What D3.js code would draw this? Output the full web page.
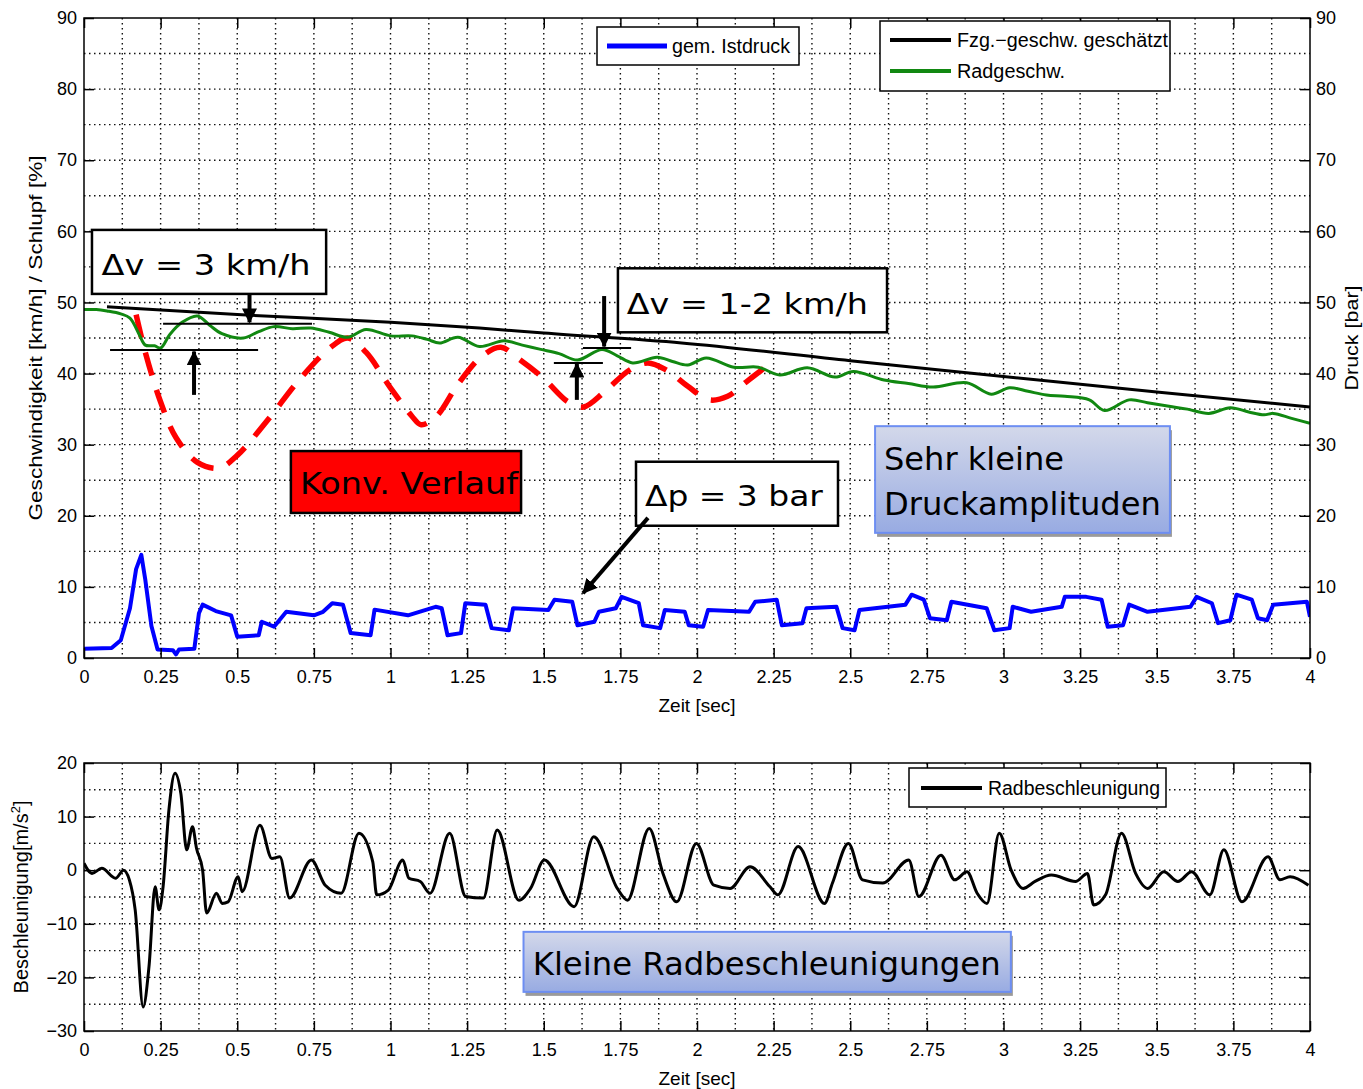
<!DOCTYPE html>
<html>
<head>
<meta charset="utf-8">
<script src="https://cdn.jsdelivr.net/npm/d3@7"></script>
<style>
body { margin: 0; background: #fff; }
text { font-family: "Liberation Sans", Arial, sans-serif; fill: #000; }
.note { font-family: "DejaVu Sans", Verdana, sans-serif; }
</style>
</head>
<body>
<svg id="chart" width="1363" height="1089"></svg>
<script>
// ---- data ----
const timeTicks = [0, 0.25, 0.5, 0.75, 1, 1.25, 1.5, 1.75, 2, 2.25, 2.5, 2.75, 3, 3.25, 3.5, 3.75, 4];
const timeLabels = ["0", "0.25", "0.5", "0.75", "1", "1.25", "1.5", "1.75", "2", "2.25", "2.5", "2.75", "3", "3.25", "3.5", "3.75", "4"];
const speedTicks = [0, 10, 20, 30, 40, 50, 60, 70, 80, 90];
const accelTicks = [-30, -20, -10, 0, 10, 20];

// Fzg.-geschw. geschaetzt [t, km/h]
const vehicleSpeed = [[0.075, 49.4], [0.5, 48.3], [1.0, 47.2], [1.29, 46.4], [1.5, 45.7], [1.95, 44.3],
  [2.5, 41.8], [3.0, 39.6], [3.5, 37.4], [4.0, 35.3]];

// Radgeschw. [t, km/h]
const wheelSpeed = [[0, 49.0], [0.04, 49.0], [0.075, 48.8], [0.12, 48.4], [0.15, 47.8], [0.18, 45.5], [0.2, 44.0],
  [0.23, 43.9], [0.25, 43.6], [0.28, 45.5], [0.32, 47.2], [0.37, 48.1], [0.41, 46.8], [0.45, 45.6], [0.52, 45.0],
  [0.57, 45.9], [0.62, 46.6], [0.68, 46.3], [0.74, 46.4], [0.8, 45.8], [0.86, 45.1], [0.92, 46.2], [1.0, 45.3],
  [1.07, 45.3], [1.12, 44.8], [1.16, 44.3], [1.22, 45.1], [1.29, 43.8], [1.37, 44.6], [1.43, 44.0], [1.49, 43.4],
  [1.55, 42.8], [1.61, 41.9], [1.69, 43.4], [1.74, 42.5], [1.79, 41.5], [1.87, 42.3], [1.92, 41.7], [1.97, 41.2],
  [2.03, 42.2], [2.12, 40.9], [2.2, 40.9], [2.27, 39.8], [2.36, 40.8], [2.45, 39.5], [2.51, 40.3], [2.61, 39.1],
  [2.69, 38.6], [2.77, 38.1], [2.88, 38.7], [2.96, 37.1], [3.02, 38.0], [3.08, 37.5], [3.14, 37.0], [3.2, 36.8],
  [3.28, 36.3], [3.33, 34.8], [3.41, 36.3], [3.47, 35.9], [3.54, 35.4], [3.6, 35.0], [3.67, 34.4], [3.74, 35.2],
  [3.8, 34.6], [3.85, 34.2], [3.88, 34.4], [3.94, 33.7], [4.0, 33.0]];

// Konv. Verlauf (red dashed) [t, km/h]
const convSpeed = [[0.17, 48.3], [0.2, 43], [0.25, 36], [0.3, 31], [0.37, 27.5], [0.44, 26.7], [0.5, 28.5],
  [0.6, 33.5], [0.7, 39], [0.8, 43.5], [0.86, 45], [0.92, 43], [1.0, 38], [1.07, 34], [1.1, 32.8], [1.15, 34],
  [1.22, 38.5], [1.3, 42.5], [1.36, 43.7], [1.42, 42], [1.5, 39.3], [1.58, 36], [1.63, 35.3], [1.7, 37.5],
  [1.78, 40.5], [1.84, 41.5], [1.9, 40.5], [1.97, 38.2], [2.04, 36.3], [2.1, 36.8], [2.16, 38.8], [2.22, 40.8]];

// gem. Istdruck [t, bar]
const pressure = [[0, 1.3], [0.09, 1.4], [0.12, 2.5], [0.15, 7], [0.17, 12.5], [0.187, 14.5], [0.2, 11],
  [0.22, 4.5], [0.24, 1.2], [0.29, 1.1], [0.3, 0.5], [0.31, 1.2], [0.36, 1.3], [0.375, 6.3], [0.387, 7.5],
  [0.43, 6.6], [0.48, 6.0], [0.5, 3.0], [0.57, 3.2], [0.58, 5.1], [0.62, 4.4], [0.66, 6.5], [0.75, 6.0],
  [0.78, 6.5], [0.81, 7.7], [0.845, 7.5], [0.87, 3.5], [0.935, 3.2], [0.948, 6.8], [1.057, 6.0], [1.147, 7.2],
  [1.167, 7.0], [1.186, 3.2], [1.23, 3.5], [1.244, 7.7], [1.31, 7.5], [1.33, 4.2], [1.386, 3.9], [1.4, 7.0],
  [1.515, 6.75], [1.535, 8.2], [1.593, 7.9], [1.61, 4.6], [1.665, 5.1], [1.68, 6.5], [1.735, 7.0], [1.754, 8.6],
  [1.81, 7.7], [1.824, 4.6], [1.88, 4.2], [1.895, 6.75], [1.96, 6.5], [1.973, 4.6], [2.02, 4.4], [2.036, 6.75],
  [2.17, 6.5], [2.19, 7.9], [2.26, 8.2], [2.277, 4.6], [2.344, 4.9], [2.357, 7.0], [2.455, 7.2], [2.475, 4.2],
  [2.514, 3.9], [2.53, 6.75], [2.68, 7.5], [2.7, 8.9], [2.74, 8.2], [2.76, 5.6], [2.815, 5.3], [2.83, 7.9],
  [2.945, 7.0], [2.97, 3.9], [3.02, 4.2], [3.03, 7.2], [3.09, 6.5], [3.19, 7.2], [3.2, 8.6], [3.27, 8.6],
  [3.32, 8.2], [3.34, 4.4], [3.39, 4.6], [3.41, 7.5], [3.47, 6.5], [3.61, 7.2], [3.63, 8.6], [3.68, 7.7],
  [3.70, 4.9], [3.74, 5.3], [3.76, 8.9], [3.81, 8.2], [3.83, 5.6], [3.86, 5.3], [3.88, 7.5], [3.99, 7.9], [4.0, 5.8]];

// Radbeschleunigung [t, m/s^2]
const wheelAccel = [[0, 1.3], [0.026, -0.6], [0.058, 0.35], [0.103, -1.5], [0.129, 0.0], [0.148, -1.8],
  [0.167, -7.4], [0.193, -25.5], [0.212, -18], [0.232, -3.1], [0.245, -7.4], [0.258, -3.1], [0.277, 11.2],
  [0.297, 18.1], [0.316, 14.3], [0.335, 3.8], [0.354, 8.1], [0.367, 4.1], [0.387, 0.0], [0.4, -8.0],
  [0.432, -4.3], [0.451, -6.2], [0.47, -5.9], [0.503, -1.2], [0.516, -4.0], [0.574, 8.4], [0.613, 2.2],
  [0.639, 2.5], [0.671, -5.2], [0.742, 1.9], [0.787, -2.8], [0.839, -4.3], [0.897, 6.9], [0.942, 1.6],
  [0.955, -4.6], [0.993, -3.7], [1.04, 1.9], [1.06, -1.5], [1.097, -2.1], [1.129, -4.3], [1.193, 6.9],
  [1.245, -4.9], [1.303, -5.2], [1.348, 7.5], [1.419, -5.6], [1.457, -3.4], [1.502, 1.9], [1.599, -6.8],
  [1.663, 6.25], [1.74, -3.4], [1.773, -5.6], [1.844, 7.8], [1.889, -0.6], [1.934, -5.9], [1.998, 5.0],
  [2.055, -2.8], [2.108, -3.4], [2.173, 0.65], [2.238, -3.1], [2.264, -4.6], [2.33, 4.4], [2.416, -6.2],
  [2.442, -2.4], [2.494, 5.0], [2.54, -1.8], [2.606, -2.4], [2.691, 1.9], [2.724, -4.9], [2.796, 2.8],
  [2.841, -1.8], [2.881, -0.3], [2.914, -4.3], [2.946, -6.2], [2.986, 6.9], [3.025, 0.0], [3.064, -3.4],
  [3.103, -2.1], [3.156, -0.9], [3.235, -2.1], [3.274, -0.6], [3.294, -6.5], [3.333, -4.6], [3.385, 6.9],
  [3.431, -0.6], [3.47, -3.4], [3.523, -0.3], [3.569, -2.1], [3.614, -0.3], [3.673, -4.6], [3.719, 3.8],
  [3.778, -5.9], [3.863, 2.5], [3.902, -1.8], [3.935, -1.2], [3.995, -2.8]];

// ---- layout ----
const svg = d3.select('#chart');
const p1 = {left: 84, top: 18, width: 1226, height: 640};
const p2 = {left: 84, top: 763, width: 1226, height: 268};

const x1 = d3.scaleLinear().domain([0, 4]).range([p1.left, p1.left + p1.width]);
const y1 = d3.scaleLinear().domain([0, 90]).range([p1.top + p1.height, p1.top]);
const yP = d3.scaleLinear().domain([0, 90]).range([p1.top + p1.height, p1.top]);
const x2 = d3.scaleLinear().domain([0, 4]).range([p2.left, p2.left + p2.width]);
const y2 = d3.scaleLinear().domain([-30, 20]).range([p2.top + p2.height, p2.top]);

const defs = svg.append('defs');
defs.append('clipPath').attr('id', 'clip1').append('rect')
  .attr('x', p1.left).attr('y', p1.top).attr('width', p1.width).attr('height', p1.height);
defs.append('clipPath').attr('id', 'clip2').append('rect')
  .attr('x', p2.left).attr('y', p2.top).attr('width', p2.width).attr('height', p2.height);
defs.append('marker').attr('id', 'head')
  .attr('markerUnits', 'userSpaceOnUse')
  .attr('viewBox', '0 0 14 14').attr('refX', 13).attr('refY', 7)
  .attr('markerWidth', 15).attr('markerHeight', 15).attr('orient', 'auto')
  .append('path').attr('d', 'M0,0 L14,7 L0,14 Z').attr('fill', '#000');
const grad = defs.append('linearGradient').attr('id', 'bluebox')
  .attr('x1', 0).attr('y1', 0).attr('x2', 0).attr('y2', 1);
grad.append('stop').attr('offset', '0%').attr('stop-color', '#d3d8ea');
grad.append('stop').attr('offset', '100%').attr('stop-color', '#98abe2');

function drawGrid(p, x, y, vStep) {
  const g = svg.append('g');
  g.selectAll('line.gv')
    .data(d3.range(1, 32).map(i => i * 0.125))
    .enter().append('line')
    .attr('x1', d => x(d)).attr('x2', d => x(d))
    .attr('y1', p.top).attr('y2', p.top + p.height);
  const yd = y.domain();
  g.selectAll('line.gh')
    .data(d3.range(yd[0] + vStep, yd[1] - 0.01, vStep))
    .enter().append('line')
    .attr('y1', d => y(d)).attr('y2', d => y(d))
    .attr('x1', p.left).attr('x2', p.left + p.width);
  g.selectAll('line')
    .attr('stroke', '#111').attr('stroke-width', 1.4)
    .attr('stroke-dasharray', '1.5,3.5');
}

function drawAxes(p, x, y, yTicks, rightLabels) {
  const fmt = d => timeLabels[timeTicks.indexOf(d)];
  const gb = svg.append('g').attr('transform', `translate(0,${p.top + p.height})`)
    .call(d3.axisBottom(x).tickValues(timeTicks).tickFormat(fmt).tickSizeInner(-10).tickSizeOuter(0).tickPadding(12));
  const gt = svg.append('g').attr('transform', `translate(0,${p.top})`)
    .call(d3.axisTop(x).tickValues(timeTicks).tickFormat('').tickSizeInner(-10).tickSizeOuter(0));
  const gl = svg.append('g').attr('transform', `translate(${p.left},0)`)
    .call(d3.axisLeft(y).tickValues(yTicks).tickSizeInner(-10).tickSizeOuter(0).tickPadding(7));
  const gr = svg.append('g').attr('transform', `translate(${p.left + p.width},0)`)
    .call(d3.axisRight(y).tickValues(yTicks).tickFormat(rightLabels ? null : '')
      .tickSizeInner(-10).tickSizeOuter(0).tickPadding(6));
  [gb, gt, gl, gr].forEach(g => {
    g.select('.domain').remove();
    g.selectAll('line').attr('stroke', '#000').attr('stroke-width', 1.5);
    g.selectAll('text').attr('font-size', 18).attr('font-family', '"Liberation Sans", Arial, sans-serif');
  });
  svg.append('rect').attr('x', p.left).attr('y', p.top).attr('width', p.width).attr('height', p.height)
    .attr('fill', 'none').attr('stroke', '#000').attr('stroke-width', 1.5);
}

// ---- upper chart ----
drawGrid(p1, x1, y1, 5);

const plot1 = svg.append('g').attr('clip-path', 'url(#clip1)');

plot1.append('path').datum(pressure)
  .attr('d', d3.line().x(d => x1(d[0])).y(d => yP(d[1])))
  .attr('fill', 'none').attr('stroke', '#0000ff').attr('stroke-width', 4).attr('stroke-linejoin', 'round');
plot1.append('path').datum(convSpeed)
  .attr('d', d3.line().x(d => x1(d[0])).y(d => y1(d[1])).curve(d3.curveCatmullRom))
  .attr('fill', 'none').attr('stroke', '#ff0000').attr('stroke-width', 5.5).attr('stroke-dasharray', '24,15');
plot1.append('path').datum(wheelSpeed)
  .attr('d', d3.line().x(d => x1(d[0])).y(d => y1(d[1])).curve(d3.curveCatmullRom))
  .attr('fill', 'none').attr('stroke', '#118811').attr('stroke-width', 3);
plot1.append('path').datum(vehicleSpeed)
  .attr('d', d3.line().x(d => x1(d[0])).y(d => y1(d[1])).curve(d3.curveMonotoneX))
  .attr('fill', 'none').attr('stroke', '#000').attr('stroke-width', 3);

drawAxes(p1, x1, y1, speedTicks, true);

// ---- lower chart ----
drawGrid(p2, x2, y2, 5);
svg.append('g').attr('clip-path', 'url(#clip2)')
  .append('path').datum(wheelAccel)
  .attr('d', d3.line().x(d => x2(d[0])).y(d => y2(d[1])).curve(d3.curveMonotoneX))
  .attr('fill', 'none').attr('stroke', '#000').attr('stroke-width', 3).attr('stroke-linejoin', 'round');
drawAxes(p2, x2, y2, accelTicks, false);

// ---- axis titles ----
svg.append('text').attr('x', x1(2)).attr('y', 712).attr('text-anchor', 'middle')
  .attr('font-size', 19).text('Zeit [sec]');
svg.append('text').attr('x', x2(2)).attr('y', 1085).attr('text-anchor', 'middle')
  .attr('font-size', 19).text('Zeit [sec]');
svg.append('text').attr('transform', `translate(42,${y1(45)}) rotate(-90)`).attr('text-anchor', 'middle')
  .attr('font-size', 18).attr('textLength', 365).attr('lengthAdjust', 'spacingAndGlyphs')
  .text('Geschwindigkeit [km/h] / Schlupf [%]');
svg.append('text').attr('transform', `translate(1358,${y1(45)}) rotate(-90)`).attr('text-anchor', 'middle')
  .attr('font-size', 18).attr('textLength', 105).attr('lengthAdjust', 'spacingAndGlyphs')
  .text('Druck [bar]');
const yl = svg.append('text').attr('transform', `translate(28,${y2(-5)}) rotate(-90)`).attr('text-anchor', 'middle')
  .attr('font-size', 20);
yl.append('tspan').text('Beschleunigung[m/s');
yl.append('tspan').attr('font-size', 13).attr('dy', -8).text('2');
yl.append('tspan').attr('dy', 8).text(']');

// ---- legends ----
function legend(bx, by, bw, bh, items) {
  const g = svg.append('g');
  g.append('rect').attr('x', bx).attr('y', by).attr('width', bw).attr('height', bh)
    .attr('fill', '#fff').attr('stroke', '#000').attr('stroke-width', 1.5);
  items.forEach(it => {
    g.append('line').attr('x1', bx + it.lx0).attr('x2', bx + it.lx1).attr('y1', by + it.ly).attr('y2', by + it.ly)
      .attr('stroke', it.color).attr('stroke-width', it.w);
    g.append('text').attr('x', bx + it.tx).attr('y', by + it.ly + 7).attr('font-size', 20)
      .attr('textLength', it.len).attr('lengthAdjust', 'spacingAndGlyphs').text(it.label);
  });
}
legend(597, 27, 202, 38, [{label: 'gem. Istdruck', color: '#0000ff', w: 5, lx0: 10, lx1: 70, ly: 19, tx: 75, len: 118}]);
legend(880, 21, 290, 70, [
  {label: 'Fzg.\u2212geschw. geschätzt', color: '#000', w: 4, lx0: 10, lx1: 71, ly: 19, tx: 77, len: 211},
  {label: 'Radgeschw.', color: '#118811', w: 4, lx0: 10, lx1: 71, ly: 50, tx: 77, len: 108}]);
legend(909, 768, 257, 39, [{label: 'Radbeschleunigung', color: '#000', w: 4, lx0: 12, lx1: 73, ly: 20, tx: 79, len: 172}]);

// ---- annotations (data coordinates) ----
const ann = svg.append('g');
function noteBox(x, y, t0, t1, v0, v1, style) {
  const rx = x(t0), ry = y(v0), rw = x(t1) - x(t0), rh = y(v1) - y(v0);
  if (style === 'blue') {
    ann.append('rect').attr('x', rx + 2).attr('y', ry + 4).attr('width', rw).attr('height', rh).attr('fill', '#9a9a9a');
    ann.append('rect').attr('x', rx).attr('y', ry).attr('width', rw).attr('height', rh)
      .attr('fill', 'url(#bluebox)').attr('stroke', '#6d8ef2').attr('stroke-width', 2);
  } else {
    ann.append('rect').attr('x', rx).attr('y', ry).attr('width', rw).attr('height', rh)
      .attr('fill', style === 'red' ? '#ff0000' : '#fff').attr('stroke', '#000').attr('stroke-width', 2.5);
  }
}
function noteText(x, y, t, v, len, txt, size) {
  ann.append('text').attr('class', 'note').attr('x', x(t)).attr('y', y(v))
    .attr('font-size', size).attr('textLength', len).attr('lengthAdjust', 'spacingAndGlyphs').text(txt);
}
function hline(t0, t1, v) {
  ann.append('line').attr('x1', x1(t0)).attr('x2', x1(t1)).attr('y1', y1(v)).attr('y2', y1(v))
    .attr('stroke', '#000').attr('stroke-width', 2);
}
function arrow(ta, va, tb, vb) {
  ann.append('line').attr('x1', x1(ta)).attr('y1', y1(va)).attr('x2', x1(tb)).attr('y2', y1(vb))
    .attr('stroke', '#000').attr('stroke-width', 4).attr('marker-end', 'url(#head)');
}

// Δv = 3 km/h
noteBox(x1, y1, 0.026, 0.79, 60.2, 51.2, 'white');
noteText(x1, y1, 0.057, 53.9, 209, 'Δv = 3 km/h', 29);
hline(0.085, 0.568, 43.3);
hline(0.258, 0.744, 47.0);
arrow(0.54, 51.2, 0.54, 47.2);
arrow(0.359, 37.0, 0.359, 43.1);

// Δv = 1-2 km/h
noteBox(x1, y1, 1.742, 2.62, 54.8, 45.8, 'white');
noteText(x1, y1, 1.771, 48.4, 241, 'Δv = 1-2 km/h', 29);
hline(1.628, 1.785, 43.6);
hline(1.533, 1.693, 41.5);
arrow(1.697, 50.9, 1.697, 43.8);
arrow(1.608, 36.3, 1.608, 41.4);

// Δp = 3 bar
noteBox(x1, y1, 1.801, 2.46, 27.6, 18.6, 'white');
noteText(x1, y1, 1.830, 21.4, 178, 'Δp = 3 bar', 29);
arrow(1.84, 19.7, 1.628, 9.1);

// Konv. Verlauf
noteBox(x1, y1, 0.675, 1.426, 29.1, 20.4, 'red');
noteText(x1, y1, 0.705, 23.0, 218, 'Konv. Verlauf', 30);

// Sehr kleine Druckamplituden
noteBox(x1, y1, 2.581, 3.543, 32.6, 17.6, 'blue');
noteText(x1, y1, 2.61, 26.4, 180, 'Sehr kleine', 32);
noteText(x1, y1, 2.61, 20.1, 277, 'Druckamplituden', 32);

// Kleine Radbeschleunigungen
noteBox(x2, y2, 1.434, 3.024, -11.5, -22.7, 'blue');
noteText(x2, y2, 1.464, -19.55, 468, 'Kleine Radbeschleunigungen', 32);
</script>
</body>
</html>
